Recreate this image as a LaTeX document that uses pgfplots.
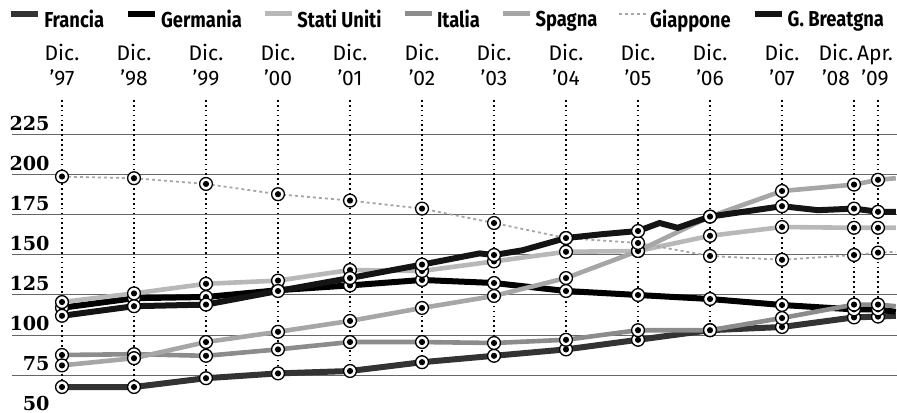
\documentclass[border=0pt]{standalone}
\usepackage{fontspec}
\usepackage{pgfplots}
\usepackage{pgfplotstable}
\pgfplotsset{compat=1.18}
\newfontfamily\fira{Fira Sans}
\newfontfamily\legfont[FakeStretch=0.85]{Fira Sans}
\newfontfamily\ynum{DejaVu Serif}
\newcommand{\lab}[2]{\begin{tabular}{@{}c@{}}#1\\#2\end{tabular}}

\pgfdeclareplotmark{bull}{%
  \pgfsetfillcolor{white}%
  \pgfpathcircle{\pgfpointorigin}{3.2pt}%
  \pgfusepath{fill,stroke}%
  \pgfsetfillcolor{black}%
  \pgfpathcircle{\pgfpointorigin}{1.55pt}%
  \pgfusepath{fill}%
}

% marker points (Dic. '97 ... Dic. '08, Apr. '09)
\pgfplotstableread{
x       fra    ger     usa    ita    spa    jap    gbr
0       67.5   117     120.6  87.5   81     199    112
1       67.5   123     126    88     85.5   198    118
2       73     123.75  132    87     95.6   194.4  119
3       76     128     134    91     102    188    127.5
4       77.5   131     140.6  95.6   108.8  184    135.6
5       83     134.4   140    95.6   116.9  179    144
6       87     132.5   146    95     124.4  170    150
7       91     127.5   152    97     135.6  160.6  160.6
8       97     125     152.5  103    152.5  157.5  165
9       103    122.5   162    103    174    149.4  174
10      105    118.75  167.5  110.6  190    147    180.5
11      111    116     167    119    194    150    179
11.3333 111.5  116     167    119    197    151.5  177
}\pts

% lines (same points, continued to the right edge)
\pgfplotstableread{
x       fra    ger     usa    ita    spa    jap
0       67.5   117     120.6  87.5   81     199
1       67.5   123     126    88     85.5   198
2       73     123.75  132    87     95.6   194.4
3       76     128     134    91     102    188
4       77.5   131     140.6  95.6   108.8  184
5       83     134.4   140    95.6   116.9  179
6       87     132.5   146    95     124.4  170
7       91     127.5   152    97     135.6  160.6
8       97     125     152.5  103    152.5  157.5
9       103    122.5   162    103    174    149.4
10      105    118.75  167.5  110.6  190    147
11      111    116     167    119    194    150
11.3333 111.5  116     167    119    197    151.5
11.58   112    114.5   167    118    198    152
}\lns

\pgfplotstableread{
x       y
0       112
1       118
2       119
3       127.5
4       135.6
5       144
5.8     151
6       150
6.4     153
7       160.6
7.5     163
8       165
8.3     170
8.55    167
9       174
10      180.5
10.5    178
11      179
11.3333 177
11.58   177
}\gbr

\begin{document}
\begin{tikzpicture}
\path[use as bounding box] (0,0) rectangle (448.5pt,206pt);
\begin{axis}[
  at={(6pt,-1.5pt)}, anchor=south west,
  scale only axis, width=442.5pt, height=157.5pt,
  xmin=-0.6944, xmax=11.597, ymin=50, ymax=246.875,
  axis line style={draw=none}, tick style={draw=none},
  xtick={0,1,2,3,4,5,6,7,8,9,10,11,11.3333},
  xticklabel pos=upper,
  xticklabels={{\lab{Dic.}{’97}},{\lab{Dic.}{’98}},{\lab{Dic.}{’99}},{\lab{Dic.}{’00}},{\lab{Dic.}{’01}},{\lab{Dic.}{’02}},{\lab{Dic.}{’03}},{\lab{Dic.}{’04}},{\lab{Dic.}{’05}},{\lab{Dic.}{’06}},{\lab{Dic.}{’07}},{\hspace*{-18pt}\lab{Dic.}{’08}},{\hspace*{-3pt}\lab{Apr.}{’09}}},
  xticklabel style={font=\fira\fontsize{10.5}{12.5}\selectfont, inner sep=0pt, yshift=3.25pt, anchor=south},
  ytick={50,75,100,125,150,175,200,225},
  /pgf/number format/assume math mode=true,
  yticklabel style={font=\ynum\bfseries\fontsize{9.6}{10}\selectfont, anchor=south east, inner sep=0pt, xshift=19pt, yshift=2pt},
  ymajorgrids, major grid style={black!60, line width=0.5pt},
  legend columns=-1,
  legend image code/.code={\draw[#1] (0pt,3.5pt) -- (13.5pt,3.5pt);},
  legend style={at={(0,1)}, anchor=north west, xshift=-2pt, yshift=45pt,
    draw=none, fill=none, inner sep=0pt,
    font=\legfont\bfseries\fontsize{10.8}{12}\selectfont,
    nodes={inner sep=0pt},
    /tikz/every odd column/.append style={column sep=1.5pt},
    /tikz/every even column/.append style={column sep=10.5pt}},
]
% vertical dotted guides
\addplot[forget plot, black, line width=0.85pt, dash pattern=on 0.85pt off 1.6pt, unbounded coords=jump]
  coordinates {(0,246.875)(0,67.5)(0,nan)(1,246.875)(1,67.5)(1,nan)(2,246.875)(2,73)(2,nan)
  (3,246.875)(3,76)(3,nan)(4,246.875)(4,77.5)(4,nan)(5,246.875)(5,83)(5,nan)
  (6,246.875)(6,87)(6,nan)(7,246.875)(7,91)(7,nan)(8,246.875)(8,97)(8,nan)
  (9,246.875)(9,103)(9,nan)(10,246.875)(10,105)(10,nan)(11,246.875)(11,111)(11,nan)
  (11.3333,246.875)(11.3333,111.5)};

\addplot[black!80, line width=3pt] table[x=x,y=fra] {\lns};
\addlegendentry{Francia}
\addplot[black, line width=3pt] table[x=x,y=ger] {\lns};
\addlegendentry{Germania}
\addplot[black!28, line width=2.3pt] table[x=x,y=usa] {\lns};
\addlegendentry{Stati Uniti}
\addplot[black!45, line width=2.3pt] table[x=x,y=ita] {\lns};
\addlegendentry{Italia}
\addplot[black!35, line width=2.3pt] table[x=x,y=spa] {\lns};
\addlegendentry{Spagna}
\addplot[black!35, line width=0.9pt, dash pattern=on 1.5pt off 1.5pt] table[x=x,y=jap] {\lns};
\addlegendentry{Giappone}
\addplot[black!92, line width=3pt] table[x=x,y=y] {\gbr};
\addlegendentry{G. Breatgna}

\foreach \c in {fra,ger,usa,ita,spa,jap,gbr}{
  \addplot[forget plot, only marks, mark=bull, mark options={draw=black, line width=0.65pt, solid}] table[x=x,y=\c] {\pts};
}
\end{axis}
\end{tikzpicture}
\end{document}
